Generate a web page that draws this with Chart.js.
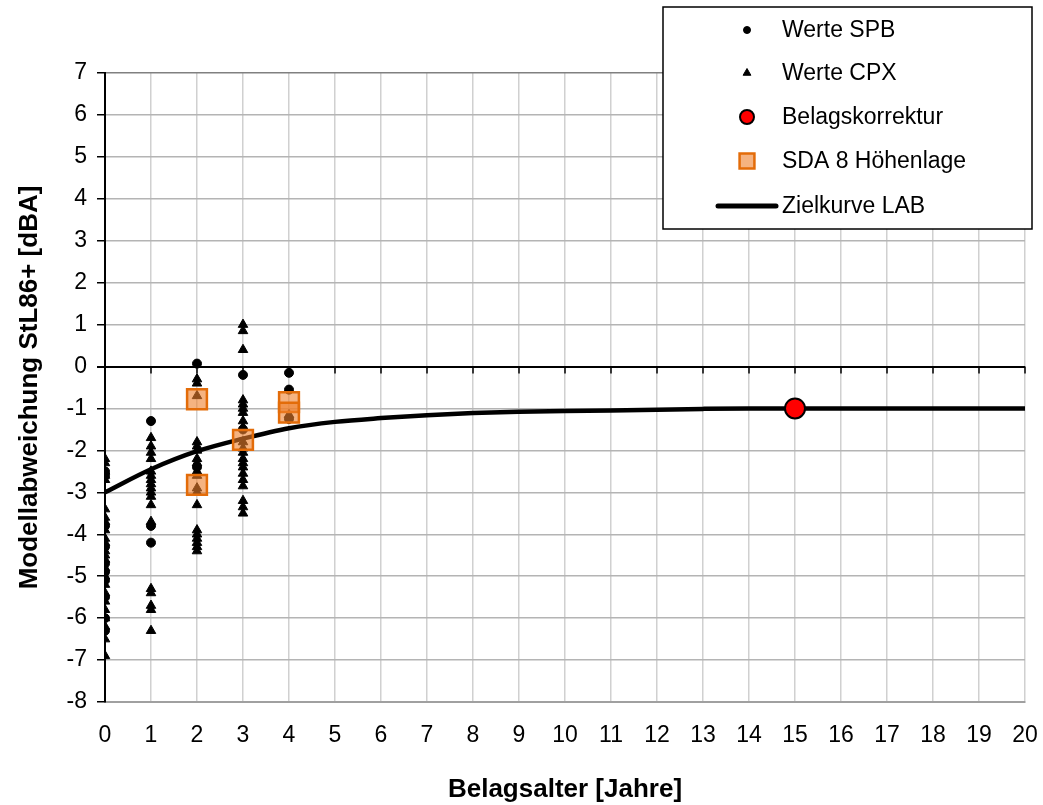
<!DOCTYPE html>
<html>
<head>
<meta charset="utf-8">
<script src="https://cdn.jsdelivr.net/npm/chart.js@4/dist/chart.umd.min.js"></script>
<style>
html,body{margin:0;padding:0;background:#fff;}
#wrap{position:relative;width:1043px;height:805px;}
</style>
</head>
<body>
<div id="wrap"><canvas id="c" width="1043" height="805"></canvas></div>
<script>
// ---- data ----
const xTicks = [0,1,2,3,4,5,6,7,8,9,10,11,12,13,14,15,16,17,18,19,20];
const yTicks = [7,6,5,4,3,2,1,0,-1,-2,-3,-4,-5,-6,-7,-8];

const spbAges   = [0,0,0,0,0,0,0,0,0,0, 1,1,1, 2,2, 3,3, 4,4,4];
const spbValues = [-2.5,-2.6,-3.8,-4.3,-4.7,-4.9,-5.1,-5.5,-6.0,-6.3,
                   -1.3,-3.8,-4.2,
                   0.07,-2.4,
                   -0.2,-1.5,
                   -0.15,-0.55,-1.25];

const cpxAge0 = [-2.2,-2.3,-2.5,-2.6,-2.7,-3.4,-3.6,-3.7,-3.9,-4.1,-4.2,-4.4,-4.5,-4.6,-4.8,-5.0,-5.2,-5.4,-5.6,-5.8,-6.0,-6.2,-6.5,-6.9];
const cpxAge1 = [-1.7,-1.9,-2.05,-2.2,-2.5,-2.6,-2.7,-2.8,-2.9,-3.0,-3.1,-3.3,-3.7,-5.3,-5.4,-5.7,-5.8,-6.3];
const cpxAge2 = [-0.3,-0.4,-0.7,-1.8,-1.9,-2.0,-2.2,-2.3,-2.5,-2.6,-2.9,-3.0,-3.3,-3.9,-4.0,-4.1,-4.2,-4.3,-4.4];
const cpxAge3 = [1.0,0.85,0.4,-0.8,-0.9,-1.0,-1.1,-1.3,-1.45,-1.8,-1.95,-2.05,-2.2,-2.3,-2.4,-2.55,-2.7,-2.85,-3.2,-3.35,-3.5];
const cpxAge4 = [-1.15];

const korrAge = [15];
const korrValue = [-1.0];

const sdaAges   = [2,2,3,4,4];
const sdaValues = [-0.78,-2.82,-1.75,-0.85,-1.1];

const curveAges   = [0,1,2,3,4,5,6,7,8,9,10,11,12,13,14,15,20];
const curveValues = [-3.0,-2.45,-2.02,-1.72,-1.47,-1.32,-1.23,-1.16,-1.11,-1.08,-1.06,-1.05,-1.03,-1.01,-1.0,-1.0,-1.0];

const legendLabels = ['Werte SPB','Werte CPX','Belagskorrektur','SDA 8 Höhenlage','Zielkurve LAB'];
const xTitle = 'Belagsalter [Jahre]';
const yTitle = 'Modellabweichung StL86+ [dBA]';

// ---- build points ----
const pairs = (xs, ys) => xs.map((x,i)=>({x:x, y:ys[i]}));
const cpxPoints = [].concat(
  cpxAge0.map(v=>({x:0,y:v})), cpxAge1.map(v=>({x:1,y:v})),
  cpxAge2.map(v=>({x:2,y:v})), cpxAge3.map(v=>({x:3,y:v})),
  cpxAge4.map(v=>({x:4,y:v})));

const FONT = "'Liberation Sans', Arial, sans-serif";

const dsSPB = {label:legendLabels[0], type:'scatter', data:pairs(spbAges,spbValues),
  pointStyle:'circle', pointRadius:4.5, backgroundColor:'#000', borderColor:'#000', borderWidth:1, order:3};
const dsCPX = {label:legendLabels[1], type:'scatter', data:cpxPoints,
  pointStyle:'triangle', pointRadius:5.5, backgroundColor:'#000', borderColor:'#000', borderWidth:1, order:4};
const dsKorr = {label:legendLabels[2], type:'scatter', data:pairs(korrAge,korrValue),
  pointStyle:'circle', pointRadius:10, backgroundColor:'#ff0000', borderColor:'#000', borderWidth:2, order:0};
const dsSDA = {label:legendLabels[3], type:'scatter', data:pairs(sdaAges,sdaValues),
  pointStyle:'rect', pointRadius:14, backgroundColor:'rgba(238,128,45,0.6)', borderColor:'#e36c09', borderWidth:2.5, order:1};
const dsCurve = {label:legendLabels[4], type:'line', data:pairs(curveAges,curveValues),
  borderColor:'#000', borderWidth:4.5, pointRadius:0, fill:false, cubicInterpolationMode:'monotone', order:2};

const legendPlugin = {
  id:'boxLegend',
  afterDraw(chart){
    const ctx = chart.ctx;
    ctx.save();
    const L=663, T=7, R=1032, B=229;
    ctx.fillStyle='#fff';
    ctx.fillRect(L,T,R-L,B-T);
    ctx.strokeStyle='#000'; ctx.lineWidth=1.5;
    ctx.strokeRect(L,T,R-L,B-T);
    const rows=[30,73,117,161,206];
    const items=[dsSPB,dsCPX,dsKorr,dsSDA,dsCurve];
    const mx=747, tx=782;
    items.forEach((ds,i)=>{
      const y=rows[i];
      if(ds.type==='line'){
        ctx.strokeStyle='#000'; ctx.lineWidth=5; ctx.lineCap='round';
        ctx.beginPath(); ctx.moveTo(718,y); ctx.lineTo(776,y); ctx.stroke();
      } else {
        let r = ds.pointRadius;
        if(ds.pointStyle==='rect') r = 10.5;
        if(ds===dsKorr) r = 7;
        if(ds===dsSPB) r = 3.5;
        if(ds===dsCPX) r = 4.5;
        ctx.fillStyle=ds.backgroundColor; ctx.strokeStyle=ds.borderColor;
        ctx.lineWidth=ds.borderWidth;
        Chart.helpers.drawPoint(ctx,{pointStyle:ds.pointStyle,rotation:0,borderWidth:ds.borderWidth,radius:r},mx,y);
      }
      ctx.fillStyle='#000';
      ctx.font='23px '+FONT;
      ctx.textBaseline='middle'; ctx.textAlign='left';
      ctx.fillText(legendLabels[i],tx,y+1);
    });
    ctx.restore();
  },
  beforeDatasetsDraw(chart){
    // small tick marks on the zero line (axis crossing)
    const ctx=chart.ctx, xs=chart.scales.x, ys=chart.scales.y;
    const y0=ys.getPixelForValue(0);
    ctx.save();
    ctx.strokeStyle='#000'; ctx.lineWidth=1.5;
    xTicks.forEach(t=>{
      const px=xs.getPixelForValue(t);
      ctx.beginPath(); ctx.moveTo(px,y0); ctx.lineTo(px,y0+7); ctx.stroke();
    });
    ctx.restore();
  }
};

new Chart(document.getElementById('c'), {
  data:{datasets:[dsKorr,dsSDA,dsCurve,dsSPB,dsCPX]},
  options:{
    responsive:false, animation:false,
    layout:{padding:{top:73,right:18,left:0,bottom:0}},
    plugins:{legend:{display:false}, tooltip:{enabled:false}, title:{display:false}},
    scales:{
      x:{type:'linear', min:0, max:20,
        afterBuildTicks(s){ s.ticks = xTicks.map(v=>({value:v})); },
        afterFit(s){ s.height = 103; s.paddingLeft = 0; s.paddingRight = 0; },
        grid:{color:'#d0d0d0', lineWidth:1.5, drawTicks:false},
        border:{display:true, color:'#a0a0a0', width:2},
        ticks:{color:'#000', font:{family:FONT, size:23}, padding:20, maxRotation:0, autoSkip:false},
        title:{display:true, text:xTitle, color:'#000', font:{family:FONT, size:26, weight:'bold'}, padding:{top:0,bottom:0}}
      },
      y:{type:'linear', min:-8, max:7,
        afterBuildTicks(s){ s.ticks = yTicks.map(v=>({value:v})); },
        afterFit(s){ s.width = 105; s.paddingTop = 0; s.paddingBottom = 0; },
        grid:{color:(c)=> c.tick && c.tick.value===0 ? '#000' : (c.tick && c.tick.value===7 ? '#808080' : '#b4b4b4'),
              lineWidth:(c)=> c.tick && c.tick.value===0 ? 2 : 1.5,
              tickLength:8, tickColor:'#000'},
        border:{display:true, color:'#000', width:2},
        ticks:{color:'#000', font:{family:FONT, size:23}, padding:10, autoSkip:false},
        title:{display:true, text:yTitle, color:'#000', font:{family:FONT, size:26, weight:'bold'}, padding:{top:14,bottom:0}}
      }
    }
  },
  plugins:[legendPlugin]
});
</script>
</body>
</html>
